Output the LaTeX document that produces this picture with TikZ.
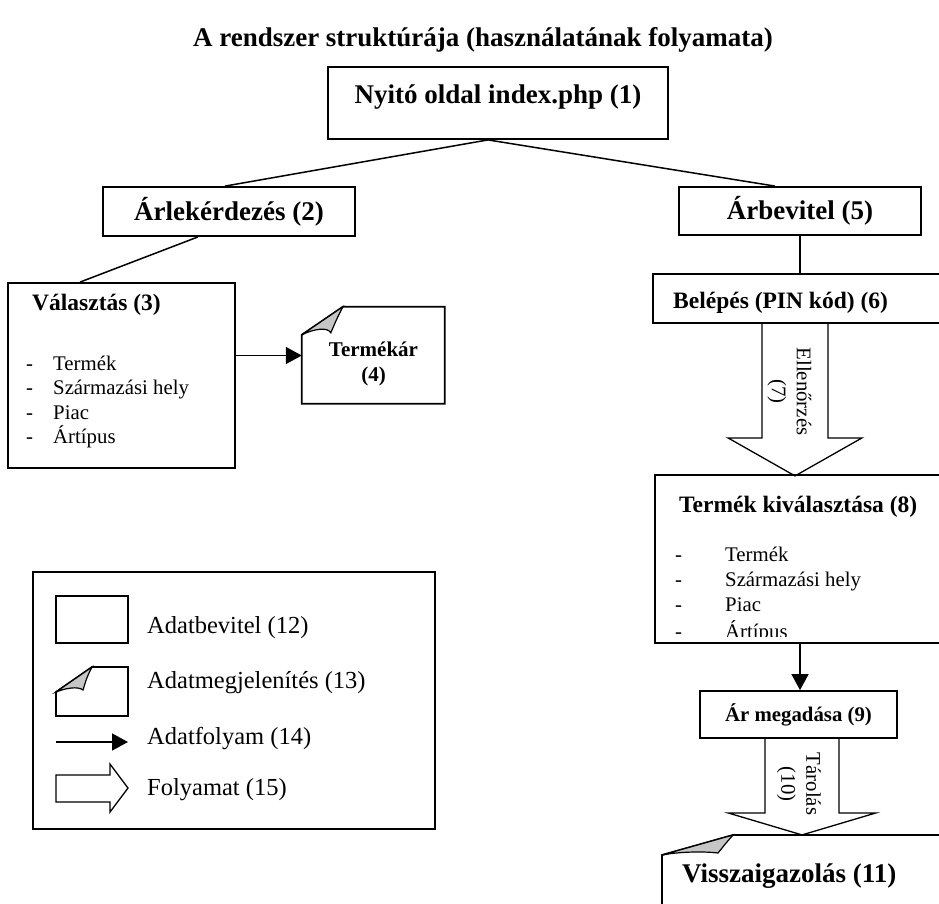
\documentclass[tikz,border=0pt]{standalone}
\usepackage{fontspec}
\setmainfont{Liberation Serif}
\usetikzlibrary{arrows.meta}
\begin{document}
\begin{tikzpicture}[x=1pt, y=-1pt,
    box/.style={draw, line width=1.8pt, inner sep=0pt},
    head/.style={font=\bfseries\fontsize{27}{31}\selectfont},
    sub/.style={font=\bfseries\fontsize{23.5}{28}\selectfont, anchor=base west, inner sep=0pt},
    txt/.style={font=\fontsize{20.8}{25}\selectfont},
    legtext/.style={font=\fontsize{24.5}{28}\selectfont, anchor=base west, inner sep=0pt},
    item/.style={txt, anchor=base west, inner sep=0pt, execute at begin node={\makebox[#1][l]{-}}},
    link/.style={line width=1.5pt},
    data/.style={line width=1.5pt, -{Triangle[length=16pt, width=17pt]}},
    flow/.style={line width=1.3pt, line join=miter},
    doc/.style={draw, line width=1.8pt},
    fold/.style={draw, fill=gray!45, line width=1.2pt}]
  \useasboundingbox (0,0) rectangle (939,903);
  % title and the first two levels
  \node[head] (title) at (483,40) {A rendszer struktúrája (használatának folyamata)};
  \node[box, minimum width=340pt, minimum height=72pt] (nyito) at (498,103) {};
  \node[head] (nyitoT) at (498,97) {Nyitó oldal index.php (1)};
  \node[box, head, minimum width=252pt, minimum height=49pt] (arl) at (229,211.5) {Árlekérdezés (2)};
  \node[box, head, minimum width=242pt, minimum height=48pt] (arb) at (800,211) {Árbevitel (5)};
  \draw[link] ([xshift=-10pt]nyito.south) -- ([xshift=-4pt]arl.north);
  \draw[link] ([xshift=-10pt]nyito.south) -- ([xshift=-25pt]arb.north);

  % left branch
  \node[box, minimum width=227pt, minimum height=185pt] (val) at (121.5,375.5) {};
  \node[sub] (valT) at (32,310) {Választás (3)};
  \node[item=27pt] (v1) at (26,370) {Termék};  \node[item=27pt] (v2) at (26,394.5) {Származási hely};
  \node[item=27pt] (v3) at (26,419) {Piac};    \node[item=27pt] (v4) at (26,443.5) {Ártípus};
  \draw[link] ([xshift=-31pt]arl.south) -- ([xshift=-41.5pt]val.north);

  \node[minimum width=143pt, minimum height=97pt, inner sep=0pt] (ter) at (373.5,355.5) {};
  \node[font=\bfseries\fontsize{21}{25}\selectfont, align=center] (terT) at (373.5,364) {Termékár\\(4)};
  \begin{scope}[shift={(ter.north west)}]
    \draw[doc] (0,28) -- (41,0) -- (143,0) -- (143,97) -- (0,97) -- cycle;
    \draw[fold] (0,28) -- (41,0) .. controls (35,12) .. (29,26) .. controls (26,20) and (12,22) .. (0,28) -- cycle;
  \end{scope}
  \draw[data] (val.east |- ter.west) -- (ter.west);

  % right branch
  \node[box, minimum width=292pt, minimum height=49pt] (bel) at (799,298.5) {};
  \node[sub] (belT) at (673,308) {Belépés (PIN kód) (6)};
  \draw[link] (arb.south) -- (arb.south |- bel.north);
  \draw[flow] ([xshift=-37pt]bel.south) -- ++(0,114) -- ++(-34,0) -- ++(67,38) -- ++(67,-38) -- ++(-34,0) -- ++(0,-114);
  \node[txt, rotate=-90, align=center] (chk) at (789.5,391.5) {Ellenőrzés\\(7)};

  \node[box, minimum width=290pt, minimum height=168pt] (tkv) at (800,559) {};
  \node[sub] (tkvT) at (679,512) {Termék kiválasztása (8)};
  \begin{scope}
    \clip (tkv.north west) rectangle ([yshift=7pt]tkv.south east);
    \node[item=50pt] (t1) at (675,561) {Termék};  \node[item=50pt] (t2) at (675,586) {Származási hely};
    \node[item=50pt] (t3) at (675,611) {Piac};    \node[item=50pt] (t4) at (675,638) {Ártípus};
  \end{scope}

  \node[box, font=\bfseries\fontsize{20.8}{25}\selectfont, minimum width=197pt, minimum height=47pt] (arm) at (798.5,714.5) {Ár megadása (9)};
  \draw[data] (tkv.south) -- (tkv.south |- arm.north);
  \draw[flow] ([xshift=-33.5pt]arm.south) -- ++(0,74) -- ++(-37,0) -- ++(74,22) -- ++(74,-22) -- ++(-37,0) -- ++(0,-74);
  \node[txt, rotate=-90, align=center] (store) at (799,784) {Tárolás\\(10)};

  \coordinate (vis) at (662,835);
  \begin{scope}[shift={(vis)}]
    \draw[doc] (0,100) -- (0,20) -- (71,0) -- (300,0);
    \draw[fold] (0,20) -- (71,0) .. controls (64,8) .. (56,18) .. controls (40,16) and (15,17) .. (0,20) -- cycle;
  \end{scope}
  \node[head, anchor=base west, inner sep=0pt] (viss) at (682,882) {Visszaigazolás (11)};

  % legend
  \node[box, minimum width=402pt, minimum height=257pt] (legend) at (234,700.5) {};
  \node[box, minimum width=72pt, minimum height=47pt] (lg1) at (92,619.5) {};
  \node[legtext] (lg1T) at (147,633) {Adatbevitel (12)};
  \coordinate (lg2) at (56,667);
  \begin{scope}[shift={(lg2)}]
    \draw[doc] (0,25) -- (36,0) -- (72,0) -- (72,49) -- (0,49) -- cycle;
    \draw[fold] (0,25) -- (36,0) .. controls (31,10) .. (27,23) .. controls (22,19) and (10,21) .. (0,25) -- cycle;
  \end{scope}
  \node[legtext] (lg2T) at (147,688) {Adatmegjelenítés (13)};
  \coordinate (lg3a) at (56,742); \coordinate (lg3b) at (128,742);
  \draw[data] (lg3a) -- (lg3b);
  \node[legtext] (lg3T) at (147,744) {Adatfolyam (14)};
  \coordinate (lg4) at (56,775);
  \draw[flow] (lg4) -- ++(54,0) -- ++(0,-11) -- ++(18,24) -- ++(-18,24) -- ++(0,-10) -- ++(-54,0) -- cycle;
  \node[legtext] (lg4T) at (147,795) {Folyamat (15)};
\end{tikzpicture}
\end{document}
